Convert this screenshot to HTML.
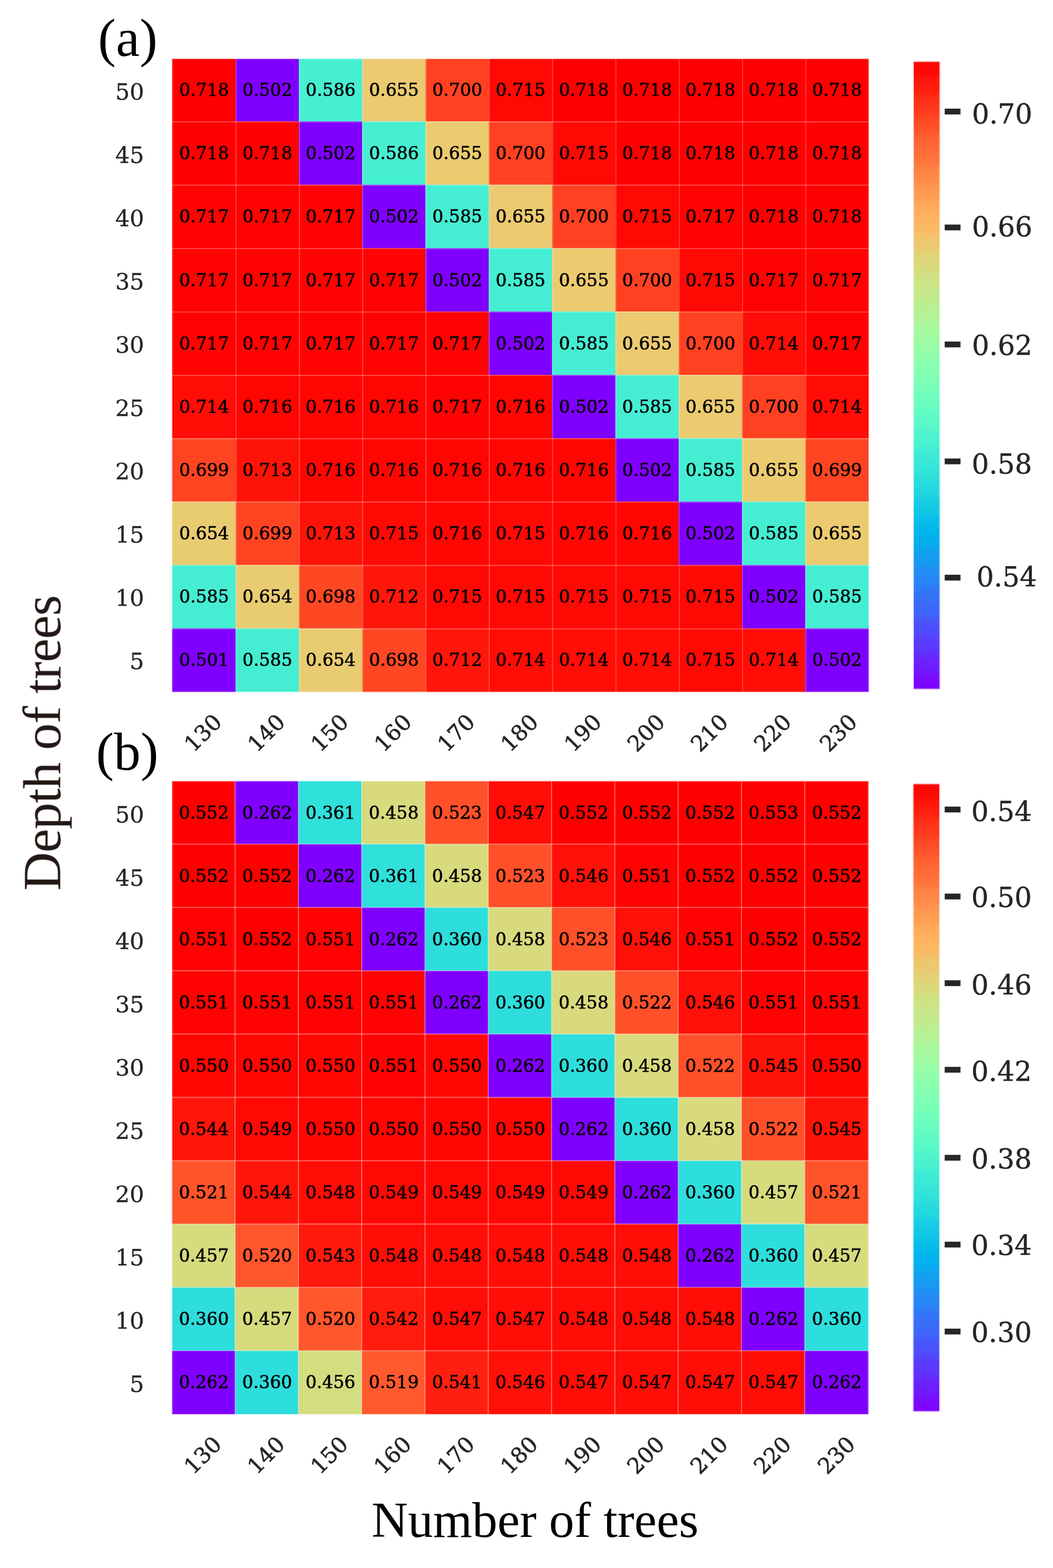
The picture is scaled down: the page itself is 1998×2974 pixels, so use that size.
<!DOCTYPE html>
<html lang="en"><head><meta charset="utf-8"><title>Heatmaps: depth of trees vs number of trees</title>
<style>
html,body{margin:0;padding:0;background:#fff}
body{width:1998px;height:2974px;overflow:hidden}
svg{display:block}
.c{font-family:'DejaVu Serif','Liberation Serif',serif;font-size:33.1px;fill:#000;stroke:#000;stroke-width:0.7px;text-anchor:middle}
.yt{font-family:'DejaVu Serif','Liberation Serif',serif;font-size:43.1px;fill:#262626;stroke:#262626;stroke-width:0.35px;text-anchor:end}
.xt{font-family:'DejaVu Serif','Liberation Serif',serif;font-size:41.5px;fill:#262626;stroke:#262626;stroke-width:0.7px;text-anchor:middle}
.ct{font-family:'DejaVu Serif','Liberation Serif',serif;font-size:51.5px;fill:#262626;stroke:#262626;stroke-width:0.5px;text-anchor:start}
.lab{font-family:'Liberation Serif','DejaVu Serif',serif;fill:#000}
</style></head><body>
<svg width="1998" height="2974" viewBox="0 0 1998 2974" role="img" aria-label="Heatmaps of model score versus depth of trees and number of trees">
<defs>
<filter id="soft" filterUnits="userSpaceOnUse" x="0" y="0" width="1998" height="2974" color-interpolation-filters="sRGB"><feGaussianBlur stdDeviation="0.55"/></filter>
</defs>
<rect width="1998" height="2974" fill="#fff"/>
<g filter="url(#soft)">
<g id="heat-a">
<g opacity="0.16">
<rect x="325" y="110" width="122.1" height="120.2" fill="#ff0000"/>
<rect x="447.1" y="110" width="120.1" height="120.2" fill="#8000ff"/>
<rect x="567.2" y="110" width="120.1" height="120.2" fill="#46efd1"/>
<rect x="687.3" y="110" width="120.1" height="120.2" fill="#ebca70"/>
<rect x="807.4" y="110" width="120.1" height="120.2" fill="#ff4121"/>
<rect x="927.5" y="110" width="120.1" height="120.2" fill="#ff0905"/>
<rect x="1047.6" y="110" width="120.1" height="120.2" fill="#ff0000"/>
<rect x="1167.7" y="110" width="120.1" height="120.2" fill="#ff0000"/>
<rect x="1287.8" y="110" width="120.1" height="120.2" fill="#ff0000"/>
<rect x="1407.9" y="110" width="120.1" height="120.2" fill="#ff0000"/>
<rect x="1528" y="110" width="122" height="120.2" fill="#ff0000"/>
<rect x="325" y="230.2" width="122.1" height="120.2" fill="#ff0000"/>
<rect x="1528" y="230.2" width="122" height="120.2" fill="#ff0000"/>
<rect x="325" y="350.4" width="122.1" height="120.2" fill="#ff0302"/>
<rect x="1528" y="350.4" width="122" height="120.2" fill="#ff0000"/>
<rect x="325" y="470.6" width="122.1" height="120.2" fill="#ff0302"/>
<rect x="1528" y="470.6" width="122" height="120.2" fill="#ff0302"/>
<rect x="325" y="590.8" width="122.1" height="120.2" fill="#ff0302"/>
<rect x="1528" y="590.8" width="122" height="120.2" fill="#ff0302"/>
<rect x="325" y="711" width="122.1" height="120.2" fill="#ff0d06"/>
<rect x="1528" y="711" width="122" height="120.2" fill="#ff0d06"/>
<rect x="325" y="831.2" width="122.1" height="120.2" fill="#ff4422"/>
<rect x="1528" y="831.2" width="122" height="120.2" fill="#ff4422"/>
<rect x="325" y="951.4" width="122.1" height="120.2" fill="#e9cb72"/>
<rect x="1528" y="951.4" width="122" height="120.2" fill="#ebca70"/>
<rect x="325" y="1071.6" width="122.1" height="120.2" fill="#45eed2"/>
<rect x="1528" y="1071.6" width="122" height="120.2" fill="#45eed2"/>
<rect x="325" y="1191.8" width="122.1" height="122.2" fill="#8000ff"/>
<rect x="447.1" y="1191.8" width="120.1" height="122.2" fill="#45eed2"/>
<rect x="567.2" y="1191.8" width="120.1" height="122.2" fill="#e9cb72"/>
<rect x="687.3" y="1191.8" width="120.1" height="122.2" fill="#ff4724"/>
<rect x="807.4" y="1191.8" width="120.1" height="122.2" fill="#ff160b"/>
<rect x="927.5" y="1191.8" width="120.1" height="122.2" fill="#ff0d06"/>
<rect x="1047.6" y="1191.8" width="120.1" height="122.2" fill="#ff0d06"/>
<rect x="1167.7" y="1191.8" width="120.1" height="122.2" fill="#ff0d06"/>
<rect x="1287.8" y="1191.8" width="120.1" height="122.2" fill="#ff0905"/>
<rect x="1407.9" y="1191.8" width="120.1" height="122.2" fill="#ff0d06"/>
<rect x="1528" y="1191.8" width="122" height="122.2" fill="#8000ff"/>
</g>
<rect x="327" y="112" width="120.4" height="118.5" fill="#ff0000"/>
<rect x="447.1" y="112" width="120.4" height="118.5" fill="#8000ff"/>
<rect x="567.2" y="112" width="120.4" height="118.5" fill="#46efd1"/>
<rect x="687.3" y="112" width="120.4" height="118.5" fill="#ebca70"/>
<rect x="807.4" y="112" width="120.4" height="118.5" fill="#ff4121"/>
<rect x="927.5" y="112" width="120.4" height="118.5" fill="#ff0905"/>
<rect x="1047.6" y="112" width="120.4" height="118.5" fill="#ff0000"/>
<rect x="1167.7" y="112" width="120.4" height="118.5" fill="#ff0000"/>
<rect x="1287.8" y="112" width="120.4" height="118.5" fill="#ff0000"/>
<rect x="1407.9" y="112" width="120.4" height="118.5" fill="#ff0000"/>
<rect x="1528" y="112" width="120" height="118.5" fill="#ff0000"/>
<rect x="327" y="230.2" width="120.4" height="120.5" fill="#ff0000"/>
<rect x="447.1" y="230.2" width="120.4" height="120.5" fill="#ff0000"/>
<rect x="567.2" y="230.2" width="120.4" height="120.5" fill="#8000ff"/>
<rect x="687.3" y="230.2" width="120.4" height="120.5" fill="#46efd1"/>
<rect x="807.4" y="230.2" width="120.4" height="120.5" fill="#ebca70"/>
<rect x="927.5" y="230.2" width="120.4" height="120.5" fill="#ff4121"/>
<rect x="1047.6" y="230.2" width="120.4" height="120.5" fill="#ff0905"/>
<rect x="1167.7" y="230.2" width="120.4" height="120.5" fill="#ff0000"/>
<rect x="1287.8" y="230.2" width="120.4" height="120.5" fill="#ff0000"/>
<rect x="1407.9" y="230.2" width="120.4" height="120.5" fill="#ff0000"/>
<rect x="1528" y="230.2" width="120" height="120.5" fill="#ff0000"/>
<rect x="327" y="350.4" width="120.4" height="120.5" fill="#ff0302"/>
<rect x="447.1" y="350.4" width="120.4" height="120.5" fill="#ff0302"/>
<rect x="567.2" y="350.4" width="120.4" height="120.5" fill="#ff0302"/>
<rect x="687.3" y="350.4" width="120.4" height="120.5" fill="#8000ff"/>
<rect x="807.4" y="350.4" width="120.4" height="120.5" fill="#45eed2"/>
<rect x="927.5" y="350.4" width="120.4" height="120.5" fill="#ebca70"/>
<rect x="1047.6" y="350.4" width="120.4" height="120.5" fill="#ff4121"/>
<rect x="1167.7" y="350.4" width="120.4" height="120.5" fill="#ff0905"/>
<rect x="1287.8" y="350.4" width="120.4" height="120.5" fill="#ff0302"/>
<rect x="1407.9" y="350.4" width="120.4" height="120.5" fill="#ff0000"/>
<rect x="1528" y="350.4" width="120" height="120.5" fill="#ff0000"/>
<rect x="327" y="470.6" width="120.4" height="120.5" fill="#ff0302"/>
<rect x="447.1" y="470.6" width="120.4" height="120.5" fill="#ff0302"/>
<rect x="567.2" y="470.6" width="120.4" height="120.5" fill="#ff0302"/>
<rect x="687.3" y="470.6" width="120.4" height="120.5" fill="#ff0302"/>
<rect x="807.4" y="470.6" width="120.4" height="120.5" fill="#8000ff"/>
<rect x="927.5" y="470.6" width="120.4" height="120.5" fill="#45eed2"/>
<rect x="1047.6" y="470.6" width="120.4" height="120.5" fill="#ebca70"/>
<rect x="1167.7" y="470.6" width="120.4" height="120.5" fill="#ff4121"/>
<rect x="1287.8" y="470.6" width="120.4" height="120.5" fill="#ff0905"/>
<rect x="1407.9" y="470.6" width="120.4" height="120.5" fill="#ff0302"/>
<rect x="1528" y="470.6" width="120" height="120.5" fill="#ff0302"/>
<rect x="327" y="590.8" width="120.4" height="120.5" fill="#ff0302"/>
<rect x="447.1" y="590.8" width="120.4" height="120.5" fill="#ff0302"/>
<rect x="567.2" y="590.8" width="120.4" height="120.5" fill="#ff0302"/>
<rect x="687.3" y="590.8" width="120.4" height="120.5" fill="#ff0302"/>
<rect x="807.4" y="590.8" width="120.4" height="120.5" fill="#ff0302"/>
<rect x="927.5" y="590.8" width="120.4" height="120.5" fill="#8000ff"/>
<rect x="1047.6" y="590.8" width="120.4" height="120.5" fill="#45eed2"/>
<rect x="1167.7" y="590.8" width="120.4" height="120.5" fill="#ebca70"/>
<rect x="1287.8" y="590.8" width="120.4" height="120.5" fill="#ff4121"/>
<rect x="1407.9" y="590.8" width="120.4" height="120.5" fill="#ff0d06"/>
<rect x="1528" y="590.8" width="120" height="120.5" fill="#ff0302"/>
<rect x="327" y="711" width="120.4" height="120.5" fill="#ff0d06"/>
<rect x="447.1" y="711" width="120.4" height="120.5" fill="#ff0603"/>
<rect x="567.2" y="711" width="120.4" height="120.5" fill="#ff0603"/>
<rect x="687.3" y="711" width="120.4" height="120.5" fill="#ff0603"/>
<rect x="807.4" y="711" width="120.4" height="120.5" fill="#ff0302"/>
<rect x="927.5" y="711" width="120.4" height="120.5" fill="#ff0603"/>
<rect x="1047.6" y="711" width="120.4" height="120.5" fill="#8000ff"/>
<rect x="1167.7" y="711" width="120.4" height="120.5" fill="#45eed2"/>
<rect x="1287.8" y="711" width="120.4" height="120.5" fill="#ebca70"/>
<rect x="1407.9" y="711" width="120.4" height="120.5" fill="#ff4121"/>
<rect x="1528" y="711" width="120" height="120.5" fill="#ff0d06"/>
<rect x="327" y="831.2" width="120.4" height="120.5" fill="#ff4422"/>
<rect x="447.1" y="831.2" width="120.4" height="120.5" fill="#ff1309"/>
<rect x="567.2" y="831.2" width="120.4" height="120.5" fill="#ff0603"/>
<rect x="687.3" y="831.2" width="120.4" height="120.5" fill="#ff0603"/>
<rect x="807.4" y="831.2" width="120.4" height="120.5" fill="#ff0603"/>
<rect x="927.5" y="831.2" width="120.4" height="120.5" fill="#ff0603"/>
<rect x="1047.6" y="831.2" width="120.4" height="120.5" fill="#ff0603"/>
<rect x="1167.7" y="831.2" width="120.4" height="120.5" fill="#8000ff"/>
<rect x="1287.8" y="831.2" width="120.4" height="120.5" fill="#45eed2"/>
<rect x="1407.9" y="831.2" width="120.4" height="120.5" fill="#ebca70"/>
<rect x="1528" y="831.2" width="120" height="120.5" fill="#ff4422"/>
<rect x="327" y="951.4" width="120.4" height="120.5" fill="#e9cb72"/>
<rect x="447.1" y="951.4" width="120.4" height="120.5" fill="#ff4422"/>
<rect x="567.2" y="951.4" width="120.4" height="120.5" fill="#ff1309"/>
<rect x="687.3" y="951.4" width="120.4" height="120.5" fill="#ff0905"/>
<rect x="807.4" y="951.4" width="120.4" height="120.5" fill="#ff0603"/>
<rect x="927.5" y="951.4" width="120.4" height="120.5" fill="#ff0905"/>
<rect x="1047.6" y="951.4" width="120.4" height="120.5" fill="#ff0603"/>
<rect x="1167.7" y="951.4" width="120.4" height="120.5" fill="#ff0603"/>
<rect x="1287.8" y="951.4" width="120.4" height="120.5" fill="#8000ff"/>
<rect x="1407.9" y="951.4" width="120.4" height="120.5" fill="#45eed2"/>
<rect x="1528" y="951.4" width="120" height="120.5" fill="#ebca70"/>
<rect x="327" y="1071.6" width="120.4" height="120.5" fill="#45eed2"/>
<rect x="447.1" y="1071.6" width="120.4" height="120.5" fill="#e9cb72"/>
<rect x="567.2" y="1071.6" width="120.4" height="120.5" fill="#ff4724"/>
<rect x="687.3" y="1071.6" width="120.4" height="120.5" fill="#ff160b"/>
<rect x="807.4" y="1071.6" width="120.4" height="120.5" fill="#ff0905"/>
<rect x="927.5" y="1071.6" width="120.4" height="120.5" fill="#ff0905"/>
<rect x="1047.6" y="1071.6" width="120.4" height="120.5" fill="#ff0905"/>
<rect x="1167.7" y="1071.6" width="120.4" height="120.5" fill="#ff0905"/>
<rect x="1287.8" y="1071.6" width="120.4" height="120.5" fill="#ff0905"/>
<rect x="1407.9" y="1071.6" width="120.4" height="120.5" fill="#8000ff"/>
<rect x="1528" y="1071.6" width="120" height="120.5" fill="#45eed2"/>
<rect x="327" y="1191.8" width="120.4" height="120.2" fill="#8000ff"/>
<rect x="447.1" y="1191.8" width="120.4" height="120.2" fill="#45eed2"/>
<rect x="567.2" y="1191.8" width="120.4" height="120.2" fill="#e9cb72"/>
<rect x="687.3" y="1191.8" width="120.4" height="120.2" fill="#ff4724"/>
<rect x="807.4" y="1191.8" width="120.4" height="120.2" fill="#ff160b"/>
<rect x="927.5" y="1191.8" width="120.4" height="120.2" fill="#ff0d06"/>
<rect x="1047.6" y="1191.8" width="120.4" height="120.2" fill="#ff0d06"/>
<rect x="1167.7" y="1191.8" width="120.4" height="120.2" fill="#ff0d06"/>
<rect x="1287.8" y="1191.8" width="120.4" height="120.2" fill="#ff0905"/>
<rect x="1407.9" y="1191.8" width="120.4" height="120.2" fill="#ff0d06"/>
<rect x="1528" y="1191.8" width="120" height="120.2" fill="#8000ff"/>
<rect x="447.1" y="112" width="2" height="1200" fill="#fff" fill-opacity="0.22"/>
<rect x="567.2" y="112" width="2" height="1200" fill="#fff" fill-opacity="0.22"/>
<rect x="687.3" y="112" width="2" height="1200" fill="#fff" fill-opacity="0.22"/>
<rect x="807.4" y="112" width="2" height="1200" fill="#fff" fill-opacity="0.22"/>
<rect x="927.5" y="112" width="2" height="1200" fill="#fff" fill-opacity="0.22"/>
<rect x="1047.6" y="112" width="2" height="1200" fill="#fff" fill-opacity="0.22"/>
<rect x="1167.7" y="112" width="2" height="1200" fill="#fff" fill-opacity="0.22"/>
<rect x="1287.8" y="112" width="2" height="1200" fill="#fff" fill-opacity="0.22"/>
<rect x="1407.9" y="112" width="2" height="1200" fill="#fff" fill-opacity="0.22"/>
<rect x="1528" y="112" width="2" height="1200" fill="#fff" fill-opacity="0.22"/>
<rect x="327" y="230.2" width="1321" height="2" fill="#fff" fill-opacity="0.27"/>
<rect x="327" y="350.4" width="1321" height="2" fill="#fff" fill-opacity="0.27"/>
<rect x="327" y="470.6" width="1321" height="2" fill="#fff" fill-opacity="0.27"/>
<rect x="327" y="590.8" width="1321" height="2" fill="#fff" fill-opacity="0.27"/>
<rect x="327" y="711" width="1321" height="2" fill="#fff" fill-opacity="0.27"/>
<rect x="327" y="831.2" width="1321" height="2" fill="#fff" fill-opacity="0.27"/>
<rect x="327" y="951.4" width="1321" height="2" fill="#fff" fill-opacity="0.27"/>
<rect x="327" y="1071.6" width="1321" height="2" fill="#fff" fill-opacity="0.27"/>
<rect x="327" y="1191.8" width="1321" height="2" fill="#fff" fill-opacity="0.27"/>
</g>
<g id="annot-a">
<text class="c" x="387.25" y="182.3">0.718</text>
<text class="c" x="507.35" y="182.3">0.502</text>
<text class="c" x="627.45" y="182.3">0.586</text>
<text class="c" x="747.55" y="182.3">0.655</text>
<text class="c" x="867.65" y="182.3">0.700</text>
<text class="c" x="987.75" y="182.3">0.715</text>
<text class="c" x="1107.85" y="182.3">0.718</text>
<text class="c" x="1227.95" y="182.3">0.718</text>
<text class="c" x="1348.05" y="182.3">0.718</text>
<text class="c" x="1468.15" y="182.3">0.718</text>
<text class="c" x="1588.25" y="182.3">0.718</text>
<text class="c" x="387.25" y="302.37">0.718</text>
<text class="c" x="507.35" y="302.37">0.718</text>
<text class="c" x="627.45" y="302.37">0.502</text>
<text class="c" x="747.55" y="302.37">0.586</text>
<text class="c" x="867.65" y="302.37">0.655</text>
<text class="c" x="987.75" y="302.37">0.700</text>
<text class="c" x="1107.85" y="302.37">0.715</text>
<text class="c" x="1227.95" y="302.37">0.718</text>
<text class="c" x="1348.05" y="302.37">0.718</text>
<text class="c" x="1468.15" y="302.37">0.718</text>
<text class="c" x="1588.25" y="302.37">0.718</text>
<text class="c" x="387.25" y="422.44">0.717</text>
<text class="c" x="507.35" y="422.44">0.717</text>
<text class="c" x="627.45" y="422.44">0.717</text>
<text class="c" x="747.55" y="422.44">0.502</text>
<text class="c" x="867.65" y="422.44">0.585</text>
<text class="c" x="987.75" y="422.44">0.655</text>
<text class="c" x="1107.85" y="422.44">0.700</text>
<text class="c" x="1227.95" y="422.44">0.715</text>
<text class="c" x="1348.05" y="422.44">0.717</text>
<text class="c" x="1468.15" y="422.44">0.718</text>
<text class="c" x="1588.25" y="422.44">0.718</text>
<text class="c" x="387.25" y="542.51">0.717</text>
<text class="c" x="507.35" y="542.51">0.717</text>
<text class="c" x="627.45" y="542.51">0.717</text>
<text class="c" x="747.55" y="542.51">0.717</text>
<text class="c" x="867.65" y="542.51">0.502</text>
<text class="c" x="987.75" y="542.51">0.585</text>
<text class="c" x="1107.85" y="542.51">0.655</text>
<text class="c" x="1227.95" y="542.51">0.700</text>
<text class="c" x="1348.05" y="542.51">0.715</text>
<text class="c" x="1468.15" y="542.51">0.717</text>
<text class="c" x="1588.25" y="542.51">0.717</text>
<text class="c" x="387.25" y="662.58">0.717</text>
<text class="c" x="507.35" y="662.58">0.717</text>
<text class="c" x="627.45" y="662.58">0.717</text>
<text class="c" x="747.55" y="662.58">0.717</text>
<text class="c" x="867.65" y="662.58">0.717</text>
<text class="c" x="987.75" y="662.58">0.502</text>
<text class="c" x="1107.85" y="662.58">0.585</text>
<text class="c" x="1227.95" y="662.58">0.655</text>
<text class="c" x="1348.05" y="662.58">0.700</text>
<text class="c" x="1468.15" y="662.58">0.714</text>
<text class="c" x="1588.25" y="662.58">0.717</text>
<text class="c" x="387.25" y="782.65">0.714</text>
<text class="c" x="507.35" y="782.65">0.716</text>
<text class="c" x="627.45" y="782.65">0.716</text>
<text class="c" x="747.55" y="782.65">0.716</text>
<text class="c" x="867.65" y="782.65">0.717</text>
<text class="c" x="987.75" y="782.65">0.716</text>
<text class="c" x="1107.85" y="782.65">0.502</text>
<text class="c" x="1227.95" y="782.65">0.585</text>
<text class="c" x="1348.05" y="782.65">0.655</text>
<text class="c" x="1468.15" y="782.65">0.700</text>
<text class="c" x="1588.25" y="782.65">0.714</text>
<text class="c" x="387.25" y="902.72">0.699</text>
<text class="c" x="507.35" y="902.72">0.713</text>
<text class="c" x="627.45" y="902.72">0.716</text>
<text class="c" x="747.55" y="902.72">0.716</text>
<text class="c" x="867.65" y="902.72">0.716</text>
<text class="c" x="987.75" y="902.72">0.716</text>
<text class="c" x="1107.85" y="902.72">0.716</text>
<text class="c" x="1227.95" y="902.72">0.502</text>
<text class="c" x="1348.05" y="902.72">0.585</text>
<text class="c" x="1468.15" y="902.72">0.655</text>
<text class="c" x="1588.25" y="902.72">0.699</text>
<text class="c" x="387.25" y="1022.79">0.654</text>
<text class="c" x="507.35" y="1022.79">0.699</text>
<text class="c" x="627.45" y="1022.79">0.713</text>
<text class="c" x="747.55" y="1022.79">0.715</text>
<text class="c" x="867.65" y="1022.79">0.716</text>
<text class="c" x="987.75" y="1022.79">0.715</text>
<text class="c" x="1107.85" y="1022.79">0.716</text>
<text class="c" x="1227.95" y="1022.79">0.716</text>
<text class="c" x="1348.05" y="1022.79">0.502</text>
<text class="c" x="1468.15" y="1022.79">0.585</text>
<text class="c" x="1588.25" y="1022.79">0.655</text>
<text class="c" x="387.25" y="1142.86">0.585</text>
<text class="c" x="507.35" y="1142.86">0.654</text>
<text class="c" x="627.45" y="1142.86">0.698</text>
<text class="c" x="747.55" y="1142.86">0.712</text>
<text class="c" x="867.65" y="1142.86">0.715</text>
<text class="c" x="987.75" y="1142.86">0.715</text>
<text class="c" x="1107.85" y="1142.86">0.715</text>
<text class="c" x="1227.95" y="1142.86">0.715</text>
<text class="c" x="1348.05" y="1142.86">0.715</text>
<text class="c" x="1468.15" y="1142.86">0.502</text>
<text class="c" x="1588.25" y="1142.86">0.585</text>
<text class="c" x="387.25" y="1262.93">0.501</text>
<text class="c" x="507.35" y="1262.93">0.585</text>
<text class="c" x="627.45" y="1262.93">0.654</text>
<text class="c" x="747.55" y="1262.93">0.698</text>
<text class="c" x="867.65" y="1262.93">0.712</text>
<text class="c" x="987.75" y="1262.93">0.714</text>
<text class="c" x="1107.85" y="1262.93">0.714</text>
<text class="c" x="1227.95" y="1262.93">0.714</text>
<text class="c" x="1348.05" y="1262.93">0.715</text>
<text class="c" x="1468.15" y="1262.93">0.714</text>
<text class="c" x="1588.25" y="1262.93">0.502</text>
</g>
<g id="yticks-a">
<text class="yt" x="273.5" y="189.4">50</text>
<text class="yt" x="273.5" y="309.4">45</text>
<text class="yt" x="273.5" y="429.4">40</text>
<text class="yt" x="273.5" y="549.4">35</text>
<text class="yt" x="273.5" y="669.4">30</text>
<text class="yt" x="273.5" y="789.4">25</text>
<text class="yt" x="273.5" y="909.4">20</text>
<text class="yt" x="273.5" y="1029.4">15</text>
<text class="yt" x="273.5" y="1149.4">10</text>
<text class="yt" x="273.5" y="1269.4">5</text>
</g>
<g id="xticks-a">
<text class="xt" transform="translate(384.45 1389.3) rotate(-45)" x="0" y="15.4">130</text>
<text class="xt" transform="translate(504.55 1389.3) rotate(-45)" x="0" y="15.4">140</text>
<text class="xt" transform="translate(624.65 1389.3) rotate(-45)" x="0" y="15.4">150</text>
<text class="xt" transform="translate(744.75 1389.3) rotate(-45)" x="0" y="15.4">160</text>
<text class="xt" transform="translate(864.85 1389.3) rotate(-45)" x="0" y="15.4">170</text>
<text class="xt" transform="translate(984.95 1389.3) rotate(-45)" x="0" y="15.4">180</text>
<text class="xt" transform="translate(1105.05 1389.3) rotate(-45)" x="0" y="15.4">190</text>
<text class="xt" transform="translate(1225.15 1389.3) rotate(-45)" x="0" y="15.4">200</text>
<text class="xt" transform="translate(1345.25 1389.3) rotate(-45)" x="0" y="15.4">210</text>
<text class="xt" transform="translate(1465.35 1389.3) rotate(-45)" x="0" y="15.4">220</text>
<text class="xt" transform="translate(1590.05 1389.3) rotate(-45)" x="0" y="15.4">230</text>
</g>
<g id="cbar-a">
<linearGradient id="rb-a" gradientUnits="userSpaceOnUse" x1="0" y1="1308" x2="0" y2="116">
<stop offset="0" stop-color="#8000ff"/>
<stop offset="0.02" stop-color="#780dff"/>
<stop offset="0.03" stop-color="#7019ff"/>
<stop offset="0.05" stop-color="#6826fe"/>
<stop offset="0.06" stop-color="#6032fe"/>
<stop offset="0.08" stop-color="#583efd"/>
<stop offset="0.09" stop-color="#504afc"/>
<stop offset="0.11" stop-color="#4856fb"/>
<stop offset="0.12" stop-color="#4062fa"/>
<stop offset="0.14" stop-color="#386df9"/>
<stop offset="0.16" stop-color="#3079f7"/>
<stop offset="0.17" stop-color="#2884f6"/>
<stop offset="0.19" stop-color="#208ef4"/>
<stop offset="0.2" stop-color="#1898f2"/>
<stop offset="0.22" stop-color="#10a2f0"/>
<stop offset="0.23" stop-color="#08acee"/>
<stop offset="0.25" stop-color="#00b5eb"/>
<stop offset="0.27" stop-color="#08bee9"/>
<stop offset="0.28" stop-color="#10c6e6"/>
<stop offset="0.3" stop-color="#18cde4"/>
<stop offset="0.31" stop-color="#20d5e1"/>
<stop offset="0.33" stop-color="#28dbde"/>
<stop offset="0.34" stop-color="#30e1da"/>
<stop offset="0.36" stop-color="#38e7d7"/>
<stop offset="0.38" stop-color="#40ecd4"/>
<stop offset="0.39" stop-color="#48f1d0"/>
<stop offset="0.41" stop-color="#50f4cc"/>
<stop offset="0.42" stop-color="#58f8c9"/>
<stop offset="0.44" stop-color="#60fac5"/>
<stop offset="0.45" stop-color="#68fcc1"/>
<stop offset="0.47" stop-color="#70febc"/>
<stop offset="0.48" stop-color="#78ffb8"/>
<stop offset="0.5" stop-color="#80ffb4"/>
<stop offset="0.52" stop-color="#89ffaf"/>
<stop offset="0.53" stop-color="#90feab"/>
<stop offset="0.55" stop-color="#99fca6"/>
<stop offset="0.56" stop-color="#a0faa1"/>
<stop offset="0.58" stop-color="#a9f79c"/>
<stop offset="0.59" stop-color="#b0f397"/>
<stop offset="0.61" stop-color="#b9ef92"/>
<stop offset="0.62" stop-color="#c0eb8d"/>
<stop offset="0.64" stop-color="#c9e688"/>
<stop offset="0.66" stop-color="#d0e082"/>
<stop offset="0.67" stop-color="#d9da7d"/>
<stop offset="0.69" stop-color="#e0d377"/>
<stop offset="0.7" stop-color="#e9cb72"/>
<stop offset="0.72" stop-color="#f0c46c"/>
<stop offset="0.73" stop-color="#f9bb66"/>
<stop offset="0.75" stop-color="#ffb360"/>
<stop offset="0.77" stop-color="#ffa95b"/>
<stop offset="0.78" stop-color="#ffa055"/>
<stop offset="0.8" stop-color="#ff964f"/>
<stop offset="0.81" stop-color="#ff8c49"/>
<stop offset="0.83" stop-color="#ff8143"/>
<stop offset="0.84" stop-color="#ff763d"/>
<stop offset="0.86" stop-color="#ff6b37"/>
<stop offset="0.88" stop-color="#ff5f30"/>
<stop offset="0.89" stop-color="#ff532a"/>
<stop offset="0.91" stop-color="#ff4724"/>
<stop offset="0.92" stop-color="#ff3b1e"/>
<stop offset="0.94" stop-color="#ff2f18"/>
<stop offset="0.95" stop-color="#ff2211"/>
<stop offset="0.97" stop-color="#ff160b"/>
<stop offset="0.98" stop-color="#ff0905"/>
<stop offset="1" stop-color="#ff0000"/>
</linearGradient>
<rect x="1732" y="117" width="2" height="1190" fill="url(#rb-a)" opacity="0.2"/>
<rect x="1782" y="117" width="2" height="1190" fill="url(#rb-a)" opacity="0.45"/>
<rect x="1734" y="116" width="48" height="2.3" fill="url(#rb-a)" opacity="0.42"/>
<rect x="1734" y="1305.7" width="48" height="2.3" fill="url(#rb-a)" opacity="0.35"/>
<rect x="1734" y="118" width="48" height="1188" fill="url(#rb-a)"/>
<rect x="1792.5" y="206.1" width="30" height="11" fill="#262626"/>
<text class="ct" x="1844.2" y="234.2">0.70</text>
<rect x="1792.5" y="425.9" width="30" height="11" fill="#262626"/>
<text class="ct" x="1844.2" y="448.4">0.66</text>
<rect x="1792.5" y="647.8" width="30" height="11" fill="#262626"/>
<text class="ct" x="1844.2" y="673.2">0.62</text>
<rect x="1792.5" y="869.6" width="30" height="11" fill="#262626"/>
<text class="ct" x="1843.7" y="898">0.58</text>
<rect x="1792.5" y="1090.1" width="30" height="11" fill="#262626"/>
<text class="ct" x="1852.9" y="1111.7">0.54</text>
</g>
<g id="heat-b">
<g opacity="0.16">
<rect x="325" y="1480" width="121.09" height="121" fill="#ff0000"/>
<rect x="446.09" y="1480" width="120.09" height="121" fill="#8000ff"/>
<rect x="566.18" y="1480" width="120.09" height="121" fill="#2fe0db"/>
<rect x="686.27" y="1480" width="120.09" height="121" fill="#d9da7d"/>
<rect x="806.36" y="1480" width="120.09" height="121" fill="#ff5029"/>
<rect x="926.45" y="1480" width="120.09" height="121" fill="#ff0d06"/>
<rect x="1046.54" y="1480" width="120.09" height="121" fill="#ff0000"/>
<rect x="1166.63" y="1480" width="120.09" height="121" fill="#ff0000"/>
<rect x="1286.72" y="1480" width="120.09" height="121" fill="#ff0000"/>
<rect x="1406.81" y="1480" width="120.09" height="121" fill="#ff0000"/>
<rect x="1526.9" y="1480" width="121.1" height="121" fill="#ff0000"/>
<rect x="325" y="1601" width="121.09" height="120.1" fill="#ff0000"/>
<rect x="1526.9" y="1601" width="121.1" height="120.1" fill="#ff0000"/>
<rect x="325" y="1721.1" width="121.09" height="120.1" fill="#ff0302"/>
<rect x="1526.9" y="1721.1" width="121.1" height="120.1" fill="#ff0000"/>
<rect x="325" y="1841.2" width="121.09" height="120.1" fill="#ff0302"/>
<rect x="1526.9" y="1841.2" width="121.1" height="120.1" fill="#ff0302"/>
<rect x="325" y="1961.3" width="121.09" height="120.1" fill="#ff0603"/>
<rect x="1526.9" y="1961.3" width="121.1" height="120.1" fill="#ff0603"/>
<rect x="325" y="2081.4" width="121.09" height="120.1" fill="#ff160b"/>
<rect x="1526.9" y="2081.4" width="121.1" height="120.1" fill="#ff1309"/>
<rect x="325" y="2201.5" width="121.09" height="120.1" fill="#ff532a"/>
<rect x="1526.9" y="2201.5" width="121.1" height="120.1" fill="#ff532a"/>
<rect x="325" y="2321.6" width="121.09" height="120.1" fill="#d6db7e"/>
<rect x="1526.9" y="2321.6" width="121.1" height="120.1" fill="#d6db7e"/>
<rect x="325" y="2441.7" width="121.09" height="120.1" fill="#2ddedc"/>
<rect x="1526.9" y="2441.7" width="121.1" height="120.1" fill="#2ddedc"/>
<rect x="325" y="2561.8" width="121.09" height="122.2" fill="#8000ff"/>
<rect x="446.09" y="2561.8" width="120.09" height="122.2" fill="#2ddedc"/>
<rect x="566.18" y="2561.8" width="120.09" height="122.2" fill="#d4dd80"/>
<rect x="686.27" y="2561.8" width="120.09" height="122.2" fill="#ff592d"/>
<rect x="806.36" y="2561.8" width="120.09" height="122.2" fill="#ff1f10"/>
<rect x="926.45" y="2561.8" width="120.09" height="122.2" fill="#ff1008"/>
<rect x="1046.54" y="2561.8" width="120.09" height="122.2" fill="#ff0d06"/>
<rect x="1166.63" y="2561.8" width="120.09" height="122.2" fill="#ff0d06"/>
<rect x="1286.72" y="2561.8" width="120.09" height="122.2" fill="#ff0d06"/>
<rect x="1406.81" y="2561.8" width="120.09" height="122.2" fill="#ff0d06"/>
<rect x="1526.9" y="2561.8" width="121.1" height="122.2" fill="#8000ff"/>
</g>
<rect x="327" y="1482" width="119.39" height="119.3" fill="#ff0000"/>
<rect x="446.09" y="1482" width="120.39" height="119.3" fill="#8000ff"/>
<rect x="566.18" y="1482" width="120.39" height="119.3" fill="#2fe0db"/>
<rect x="686.27" y="1482" width="120.39" height="119.3" fill="#d9da7d"/>
<rect x="806.36" y="1482" width="120.39" height="119.3" fill="#ff5029"/>
<rect x="926.45" y="1482" width="120.39" height="119.3" fill="#ff0d06"/>
<rect x="1046.54" y="1482" width="120.39" height="119.3" fill="#ff0000"/>
<rect x="1166.63" y="1482" width="120.39" height="119.3" fill="#ff0000"/>
<rect x="1286.72" y="1482" width="120.39" height="119.3" fill="#ff0000"/>
<rect x="1406.81" y="1482" width="120.39" height="119.3" fill="#ff0000"/>
<rect x="1526.9" y="1482" width="121.1" height="119.3" fill="#ff0000"/>
<rect x="327" y="1601" width="119.39" height="120.4" fill="#ff0000"/>
<rect x="446.09" y="1601" width="120.39" height="120.4" fill="#ff0000"/>
<rect x="566.18" y="1601" width="120.39" height="120.4" fill="#8000ff"/>
<rect x="686.27" y="1601" width="120.39" height="120.4" fill="#2fe0db"/>
<rect x="806.36" y="1601" width="120.39" height="120.4" fill="#d9da7d"/>
<rect x="926.45" y="1601" width="120.39" height="120.4" fill="#ff5029"/>
<rect x="1046.54" y="1601" width="120.39" height="120.4" fill="#ff1008"/>
<rect x="1166.63" y="1601" width="120.39" height="120.4" fill="#ff0302"/>
<rect x="1286.72" y="1601" width="120.39" height="120.4" fill="#ff0000"/>
<rect x="1406.81" y="1601" width="120.39" height="120.4" fill="#ff0000"/>
<rect x="1526.9" y="1601" width="121.1" height="120.4" fill="#ff0000"/>
<rect x="327" y="1721.1" width="119.39" height="120.4" fill="#ff0302"/>
<rect x="446.09" y="1721.1" width="120.39" height="120.4" fill="#ff0000"/>
<rect x="566.18" y="1721.1" width="120.39" height="120.4" fill="#ff0302"/>
<rect x="686.27" y="1721.1" width="120.39" height="120.4" fill="#8000ff"/>
<rect x="806.36" y="1721.1" width="120.39" height="120.4" fill="#2ddedc"/>
<rect x="926.45" y="1721.1" width="120.39" height="120.4" fill="#d9da7d"/>
<rect x="1046.54" y="1721.1" width="120.39" height="120.4" fill="#ff5029"/>
<rect x="1166.63" y="1721.1" width="120.39" height="120.4" fill="#ff1008"/>
<rect x="1286.72" y="1721.1" width="120.39" height="120.4" fill="#ff0302"/>
<rect x="1406.81" y="1721.1" width="120.39" height="120.4" fill="#ff0000"/>
<rect x="1526.9" y="1721.1" width="121.1" height="120.4" fill="#ff0000"/>
<rect x="327" y="1841.2" width="119.39" height="120.4" fill="#ff0302"/>
<rect x="446.09" y="1841.2" width="120.39" height="120.4" fill="#ff0302"/>
<rect x="566.18" y="1841.2" width="120.39" height="120.4" fill="#ff0302"/>
<rect x="686.27" y="1841.2" width="120.39" height="120.4" fill="#ff0302"/>
<rect x="806.36" y="1841.2" width="120.39" height="120.4" fill="#8000ff"/>
<rect x="926.45" y="1841.2" width="120.39" height="120.4" fill="#2ddedc"/>
<rect x="1046.54" y="1841.2" width="120.39" height="120.4" fill="#d9da7d"/>
<rect x="1166.63" y="1841.2" width="120.39" height="120.4" fill="#ff5029"/>
<rect x="1286.72" y="1841.2" width="120.39" height="120.4" fill="#ff1008"/>
<rect x="1406.81" y="1841.2" width="120.39" height="120.4" fill="#ff0302"/>
<rect x="1526.9" y="1841.2" width="121.1" height="120.4" fill="#ff0302"/>
<rect x="327" y="1961.3" width="119.39" height="120.4" fill="#ff0603"/>
<rect x="446.09" y="1961.3" width="120.39" height="120.4" fill="#ff0603"/>
<rect x="566.18" y="1961.3" width="120.39" height="120.4" fill="#ff0603"/>
<rect x="686.27" y="1961.3" width="120.39" height="120.4" fill="#ff0302"/>
<rect x="806.36" y="1961.3" width="120.39" height="120.4" fill="#ff0603"/>
<rect x="926.45" y="1961.3" width="120.39" height="120.4" fill="#8000ff"/>
<rect x="1046.54" y="1961.3" width="120.39" height="120.4" fill="#2ddedc"/>
<rect x="1166.63" y="1961.3" width="120.39" height="120.4" fill="#d9da7d"/>
<rect x="1286.72" y="1961.3" width="120.39" height="120.4" fill="#ff5029"/>
<rect x="1406.81" y="1961.3" width="120.39" height="120.4" fill="#ff1309"/>
<rect x="1526.9" y="1961.3" width="121.1" height="120.4" fill="#ff0603"/>
<rect x="327" y="2081.4" width="119.39" height="120.4" fill="#ff160b"/>
<rect x="446.09" y="2081.4" width="120.39" height="120.4" fill="#ff0905"/>
<rect x="566.18" y="2081.4" width="120.39" height="120.4" fill="#ff0603"/>
<rect x="686.27" y="2081.4" width="120.39" height="120.4" fill="#ff0603"/>
<rect x="806.36" y="2081.4" width="120.39" height="120.4" fill="#ff0603"/>
<rect x="926.45" y="2081.4" width="120.39" height="120.4" fill="#ff0603"/>
<rect x="1046.54" y="2081.4" width="120.39" height="120.4" fill="#8000ff"/>
<rect x="1166.63" y="2081.4" width="120.39" height="120.4" fill="#2ddedc"/>
<rect x="1286.72" y="2081.4" width="120.39" height="120.4" fill="#d9da7d"/>
<rect x="1406.81" y="2081.4" width="120.39" height="120.4" fill="#ff5029"/>
<rect x="1526.9" y="2081.4" width="121.1" height="120.4" fill="#ff1309"/>
<rect x="327" y="2201.5" width="119.39" height="120.4" fill="#ff532a"/>
<rect x="446.09" y="2201.5" width="120.39" height="120.4" fill="#ff160b"/>
<rect x="566.18" y="2201.5" width="120.39" height="120.4" fill="#ff0d06"/>
<rect x="686.27" y="2201.5" width="120.39" height="120.4" fill="#ff0905"/>
<rect x="806.36" y="2201.5" width="120.39" height="120.4" fill="#ff0905"/>
<rect x="926.45" y="2201.5" width="120.39" height="120.4" fill="#ff0905"/>
<rect x="1046.54" y="2201.5" width="120.39" height="120.4" fill="#ff0905"/>
<rect x="1166.63" y="2201.5" width="120.39" height="120.4" fill="#8000ff"/>
<rect x="1286.72" y="2201.5" width="120.39" height="120.4" fill="#2ddedc"/>
<rect x="1406.81" y="2201.5" width="120.39" height="120.4" fill="#d6db7e"/>
<rect x="1526.9" y="2201.5" width="121.1" height="120.4" fill="#ff532a"/>
<rect x="327" y="2321.6" width="119.39" height="120.4" fill="#d6db7e"/>
<rect x="446.09" y="2321.6" width="120.39" height="120.4" fill="#ff562c"/>
<rect x="566.18" y="2321.6" width="120.39" height="120.4" fill="#ff190d"/>
<rect x="686.27" y="2321.6" width="120.39" height="120.4" fill="#ff0d06"/>
<rect x="806.36" y="2321.6" width="120.39" height="120.4" fill="#ff0d06"/>
<rect x="926.45" y="2321.6" width="120.39" height="120.4" fill="#ff0d06"/>
<rect x="1046.54" y="2321.6" width="120.39" height="120.4" fill="#ff0d06"/>
<rect x="1166.63" y="2321.6" width="120.39" height="120.4" fill="#ff0d06"/>
<rect x="1286.72" y="2321.6" width="120.39" height="120.4" fill="#8000ff"/>
<rect x="1406.81" y="2321.6" width="120.39" height="120.4" fill="#2ddedc"/>
<rect x="1526.9" y="2321.6" width="121.1" height="120.4" fill="#d6db7e"/>
<rect x="327" y="2441.7" width="119.39" height="120.4" fill="#2ddedc"/>
<rect x="446.09" y="2441.7" width="120.39" height="120.4" fill="#d6db7e"/>
<rect x="566.18" y="2441.7" width="120.39" height="120.4" fill="#ff562c"/>
<rect x="686.27" y="2441.7" width="120.39" height="120.4" fill="#ff1c0e"/>
<rect x="806.36" y="2441.7" width="120.39" height="120.4" fill="#ff0d06"/>
<rect x="926.45" y="2441.7" width="120.39" height="120.4" fill="#ff0d06"/>
<rect x="1046.54" y="2441.7" width="120.39" height="120.4" fill="#ff0d06"/>
<rect x="1166.63" y="2441.7" width="120.39" height="120.4" fill="#ff0d06"/>
<rect x="1286.72" y="2441.7" width="120.39" height="120.4" fill="#ff0d06"/>
<rect x="1406.81" y="2441.7" width="120.39" height="120.4" fill="#8000ff"/>
<rect x="1526.9" y="2441.7" width="121.1" height="120.4" fill="#2ddedc"/>
<rect x="327" y="2561.8" width="119.39" height="120.2" fill="#8000ff"/>
<rect x="446.09" y="2561.8" width="120.39" height="120.2" fill="#2ddedc"/>
<rect x="566.18" y="2561.8" width="120.39" height="120.2" fill="#d4dd80"/>
<rect x="686.27" y="2561.8" width="120.39" height="120.2" fill="#ff592d"/>
<rect x="806.36" y="2561.8" width="120.39" height="120.2" fill="#ff1f10"/>
<rect x="926.45" y="2561.8" width="120.39" height="120.2" fill="#ff1008"/>
<rect x="1046.54" y="2561.8" width="120.39" height="120.2" fill="#ff0d06"/>
<rect x="1166.63" y="2561.8" width="120.39" height="120.2" fill="#ff0d06"/>
<rect x="1286.72" y="2561.8" width="120.39" height="120.2" fill="#ff0d06"/>
<rect x="1406.81" y="2561.8" width="120.39" height="120.2" fill="#ff0d06"/>
<rect x="1526.9" y="2561.8" width="121.1" height="120.2" fill="#8000ff"/>
<rect x="445.09" y="1482" width="2" height="1200" fill="#fff" fill-opacity="0.36"/>
<rect x="565.18" y="1482" width="2" height="1200" fill="#fff" fill-opacity="0.36"/>
<rect x="685.27" y="1482" width="2" height="1200" fill="#fff" fill-opacity="0.36"/>
<rect x="805.36" y="1482" width="2" height="1200" fill="#fff" fill-opacity="0.36"/>
<rect x="925.45" y="1482" width="2" height="1200" fill="#fff" fill-opacity="0.36"/>
<rect x="1045.54" y="1482" width="2" height="1200" fill="#fff" fill-opacity="0.36"/>
<rect x="1165.63" y="1482" width="2" height="1200" fill="#fff" fill-opacity="0.36"/>
<rect x="1285.72" y="1482" width="2" height="1200" fill="#fff" fill-opacity="0.36"/>
<rect x="1405.81" y="1482" width="2" height="1200" fill="#fff" fill-opacity="0.36"/>
<rect x="1525.9" y="1482" width="2" height="1200" fill="#fff" fill-opacity="0.36"/>
<rect x="1646" y="1482" width="2" height="1200" fill="#fff" fill-opacity="0.25"/>
<rect x="327" y="1600" width="1321" height="2" fill="#fff" fill-opacity="0.36"/>
<rect x="327" y="1720.1" width="1321" height="2" fill="#fff" fill-opacity="0.36"/>
<rect x="327" y="1840.2" width="1321" height="2" fill="#fff" fill-opacity="0.36"/>
<rect x="327" y="1960.3" width="1321" height="2" fill="#fff" fill-opacity="0.36"/>
<rect x="327" y="2080.4" width="1321" height="2" fill="#fff" fill-opacity="0.36"/>
<rect x="327" y="2200.5" width="1321" height="2" fill="#fff" fill-opacity="0.36"/>
<rect x="327" y="2320.6" width="1321" height="2" fill="#fff" fill-opacity="0.36"/>
<rect x="327" y="2440.7" width="1321" height="2" fill="#fff" fill-opacity="0.36"/>
<rect x="327" y="2560.8" width="1321" height="2" fill="#fff" fill-opacity="0.36"/>
</g>
<g id="annot-b">
<text class="c" x="386.85" y="1553">0.552</text>
<text class="c" x="506.94" y="1553">0.262</text>
<text class="c" x="627.02" y="1553">0.361</text>
<text class="c" x="747.12" y="1553">0.458</text>
<text class="c" x="867.2" y="1553">0.523</text>
<text class="c" x="987.29" y="1553">0.547</text>
<text class="c" x="1107.38" y="1553">0.552</text>
<text class="c" x="1227.48" y="1553">0.552</text>
<text class="c" x="1347.56" y="1553">0.552</text>
<text class="c" x="1467.65" y="1553">0.553</text>
<text class="c" x="1587.75" y="1553">0.552</text>
<text class="c" x="386.85" y="1673">0.552</text>
<text class="c" x="506.94" y="1673">0.552</text>
<text class="c" x="627.02" y="1673">0.262</text>
<text class="c" x="747.12" y="1673">0.361</text>
<text class="c" x="867.2" y="1673">0.458</text>
<text class="c" x="987.29" y="1673">0.523</text>
<text class="c" x="1107.38" y="1673">0.546</text>
<text class="c" x="1227.48" y="1673">0.551</text>
<text class="c" x="1347.56" y="1673">0.552</text>
<text class="c" x="1467.65" y="1673">0.552</text>
<text class="c" x="1587.75" y="1673">0.552</text>
<text class="c" x="386.85" y="1793">0.551</text>
<text class="c" x="506.94" y="1793">0.552</text>
<text class="c" x="627.02" y="1793">0.551</text>
<text class="c" x="747.12" y="1793">0.262</text>
<text class="c" x="867.2" y="1793">0.360</text>
<text class="c" x="987.29" y="1793">0.458</text>
<text class="c" x="1107.38" y="1793">0.523</text>
<text class="c" x="1227.48" y="1793">0.546</text>
<text class="c" x="1347.56" y="1793">0.551</text>
<text class="c" x="1467.65" y="1793">0.552</text>
<text class="c" x="1587.75" y="1793">0.552</text>
<text class="c" x="386.85" y="1913">0.551</text>
<text class="c" x="506.94" y="1913">0.551</text>
<text class="c" x="627.02" y="1913">0.551</text>
<text class="c" x="747.12" y="1913">0.551</text>
<text class="c" x="867.2" y="1913">0.262</text>
<text class="c" x="987.29" y="1913">0.360</text>
<text class="c" x="1107.38" y="1913">0.458</text>
<text class="c" x="1227.48" y="1913">0.522</text>
<text class="c" x="1347.56" y="1913">0.546</text>
<text class="c" x="1467.65" y="1913">0.551</text>
<text class="c" x="1587.75" y="1913">0.551</text>
<text class="c" x="386.85" y="2033">0.550</text>
<text class="c" x="506.94" y="2033">0.550</text>
<text class="c" x="627.02" y="2033">0.550</text>
<text class="c" x="747.12" y="2033">0.551</text>
<text class="c" x="867.2" y="2033">0.550</text>
<text class="c" x="987.29" y="2033">0.262</text>
<text class="c" x="1107.38" y="2033">0.360</text>
<text class="c" x="1227.48" y="2033">0.458</text>
<text class="c" x="1347.56" y="2033">0.522</text>
<text class="c" x="1467.65" y="2033">0.545</text>
<text class="c" x="1587.75" y="2033">0.550</text>
<text class="c" x="386.85" y="2153">0.544</text>
<text class="c" x="506.94" y="2153">0.549</text>
<text class="c" x="627.02" y="2153">0.550</text>
<text class="c" x="747.12" y="2153">0.550</text>
<text class="c" x="867.2" y="2153">0.550</text>
<text class="c" x="987.29" y="2153">0.550</text>
<text class="c" x="1107.38" y="2153">0.262</text>
<text class="c" x="1227.48" y="2153">0.360</text>
<text class="c" x="1347.56" y="2153">0.458</text>
<text class="c" x="1467.65" y="2153">0.522</text>
<text class="c" x="1587.75" y="2153">0.545</text>
<text class="c" x="386.85" y="2273">0.521</text>
<text class="c" x="506.94" y="2273">0.544</text>
<text class="c" x="627.02" y="2273">0.548</text>
<text class="c" x="747.12" y="2273">0.549</text>
<text class="c" x="867.2" y="2273">0.549</text>
<text class="c" x="987.29" y="2273">0.549</text>
<text class="c" x="1107.38" y="2273">0.549</text>
<text class="c" x="1227.48" y="2273">0.262</text>
<text class="c" x="1347.56" y="2273">0.360</text>
<text class="c" x="1467.65" y="2273">0.457</text>
<text class="c" x="1587.75" y="2273">0.521</text>
<text class="c" x="386.85" y="2393">0.457</text>
<text class="c" x="506.94" y="2393">0.520</text>
<text class="c" x="627.02" y="2393">0.543</text>
<text class="c" x="747.12" y="2393">0.548</text>
<text class="c" x="867.2" y="2393">0.548</text>
<text class="c" x="987.29" y="2393">0.548</text>
<text class="c" x="1107.38" y="2393">0.548</text>
<text class="c" x="1227.48" y="2393">0.548</text>
<text class="c" x="1347.56" y="2393">0.262</text>
<text class="c" x="1467.65" y="2393">0.360</text>
<text class="c" x="1587.75" y="2393">0.457</text>
<text class="c" x="386.85" y="2513">0.360</text>
<text class="c" x="506.94" y="2513">0.457</text>
<text class="c" x="627.02" y="2513">0.520</text>
<text class="c" x="747.12" y="2513">0.542</text>
<text class="c" x="867.2" y="2513">0.547</text>
<text class="c" x="987.29" y="2513">0.547</text>
<text class="c" x="1107.38" y="2513">0.548</text>
<text class="c" x="1227.48" y="2513">0.548</text>
<text class="c" x="1347.56" y="2513">0.548</text>
<text class="c" x="1467.65" y="2513">0.262</text>
<text class="c" x="1587.75" y="2513">0.360</text>
<text class="c" x="386.85" y="2633">0.262</text>
<text class="c" x="506.94" y="2633">0.360</text>
<text class="c" x="627.02" y="2633">0.456</text>
<text class="c" x="747.12" y="2633">0.519</text>
<text class="c" x="867.2" y="2633">0.541</text>
<text class="c" x="987.29" y="2633">0.546</text>
<text class="c" x="1107.38" y="2633">0.547</text>
<text class="c" x="1227.48" y="2633">0.547</text>
<text class="c" x="1347.56" y="2633">0.547</text>
<text class="c" x="1467.65" y="2633">0.547</text>
<text class="c" x="1587.75" y="2633">0.262</text>
</g>
<g id="yticks-b">
<text class="yt" x="273.5" y="1560">50</text>
<text class="yt" x="273.5" y="1680">45</text>
<text class="yt" x="273.5" y="1800">40</text>
<text class="yt" x="273.5" y="1920">35</text>
<text class="yt" x="273.5" y="2040">30</text>
<text class="yt" x="273.5" y="2160">25</text>
<text class="yt" x="273.5" y="2280">20</text>
<text class="yt" x="273.5" y="2400">15</text>
<text class="yt" x="273.5" y="2520">10</text>
<text class="yt" x="273.5" y="2640">5</text>
</g>
<g id="xticks-b">
<text class="xt" transform="translate(383.94 2759.3) rotate(-45)" x="0" y="15.4">130</text>
<text class="xt" transform="translate(504.04 2759.3) rotate(-45)" x="0" y="15.4">140</text>
<text class="xt" transform="translate(624.12 2759.3) rotate(-45)" x="0" y="15.4">150</text>
<text class="xt" transform="translate(744.22 2759.3) rotate(-45)" x="0" y="15.4">160</text>
<text class="xt" transform="translate(864.3 2759.3) rotate(-45)" x="0" y="15.4">170</text>
<text class="xt" transform="translate(984.39 2759.3) rotate(-45)" x="0" y="15.4">180</text>
<text class="xt" transform="translate(1104.49 2759.3) rotate(-45)" x="0" y="15.4">190</text>
<text class="xt" transform="translate(1224.58 2759.3) rotate(-45)" x="0" y="15.4">200</text>
<text class="xt" transform="translate(1344.66 2759.3) rotate(-45)" x="0" y="15.4">210</text>
<text class="xt" transform="translate(1464.76 2759.3) rotate(-45)" x="0" y="15.4">220</text>
<text class="xt" transform="translate(1586.35 2759.3) rotate(-45)" x="0" y="15.4">230</text>
</g>
<g id="cbar-b">
<linearGradient id="rb-b" gradientUnits="userSpaceOnUse" x1="0" y1="2678" x2="0" y2="1486">
<stop offset="0" stop-color="#8000ff"/>
<stop offset="0.02" stop-color="#780dff"/>
<stop offset="0.03" stop-color="#7019ff"/>
<stop offset="0.05" stop-color="#6826fe"/>
<stop offset="0.06" stop-color="#6032fe"/>
<stop offset="0.08" stop-color="#583efd"/>
<stop offset="0.09" stop-color="#504afc"/>
<stop offset="0.11" stop-color="#4856fb"/>
<stop offset="0.12" stop-color="#4062fa"/>
<stop offset="0.14" stop-color="#386df9"/>
<stop offset="0.16" stop-color="#3079f7"/>
<stop offset="0.17" stop-color="#2884f6"/>
<stop offset="0.19" stop-color="#208ef4"/>
<stop offset="0.2" stop-color="#1898f2"/>
<stop offset="0.22" stop-color="#10a2f0"/>
<stop offset="0.23" stop-color="#08acee"/>
<stop offset="0.25" stop-color="#00b5eb"/>
<stop offset="0.27" stop-color="#08bee9"/>
<stop offset="0.28" stop-color="#10c6e6"/>
<stop offset="0.3" stop-color="#18cde4"/>
<stop offset="0.31" stop-color="#20d5e1"/>
<stop offset="0.33" stop-color="#28dbde"/>
<stop offset="0.34" stop-color="#30e1da"/>
<stop offset="0.36" stop-color="#38e7d7"/>
<stop offset="0.38" stop-color="#40ecd4"/>
<stop offset="0.39" stop-color="#48f1d0"/>
<stop offset="0.41" stop-color="#50f4cc"/>
<stop offset="0.42" stop-color="#58f8c9"/>
<stop offset="0.44" stop-color="#60fac5"/>
<stop offset="0.45" stop-color="#68fcc1"/>
<stop offset="0.47" stop-color="#70febc"/>
<stop offset="0.48" stop-color="#78ffb8"/>
<stop offset="0.5" stop-color="#80ffb4"/>
<stop offset="0.52" stop-color="#89ffaf"/>
<stop offset="0.53" stop-color="#90feab"/>
<stop offset="0.55" stop-color="#99fca6"/>
<stop offset="0.56" stop-color="#a0faa1"/>
<stop offset="0.58" stop-color="#a9f79c"/>
<stop offset="0.59" stop-color="#b0f397"/>
<stop offset="0.61" stop-color="#b9ef92"/>
<stop offset="0.62" stop-color="#c0eb8d"/>
<stop offset="0.64" stop-color="#c9e688"/>
<stop offset="0.66" stop-color="#d0e082"/>
<stop offset="0.67" stop-color="#d9da7d"/>
<stop offset="0.69" stop-color="#e0d377"/>
<stop offset="0.7" stop-color="#e9cb72"/>
<stop offset="0.72" stop-color="#f0c46c"/>
<stop offset="0.73" stop-color="#f9bb66"/>
<stop offset="0.75" stop-color="#ffb360"/>
<stop offset="0.77" stop-color="#ffa95b"/>
<stop offset="0.78" stop-color="#ffa055"/>
<stop offset="0.8" stop-color="#ff964f"/>
<stop offset="0.81" stop-color="#ff8c49"/>
<stop offset="0.83" stop-color="#ff8143"/>
<stop offset="0.84" stop-color="#ff763d"/>
<stop offset="0.86" stop-color="#ff6b37"/>
<stop offset="0.88" stop-color="#ff5f30"/>
<stop offset="0.89" stop-color="#ff532a"/>
<stop offset="0.91" stop-color="#ff4724"/>
<stop offset="0.92" stop-color="#ff3b1e"/>
<stop offset="0.94" stop-color="#ff2f18"/>
<stop offset="0.95" stop-color="#ff2211"/>
<stop offset="0.97" stop-color="#ff160b"/>
<stop offset="0.98" stop-color="#ff0905"/>
<stop offset="1" stop-color="#ff0000"/>
</linearGradient>
<rect x="1732" y="1487" width="2" height="1190" fill="url(#rb-b)" opacity="0.45"/>
<rect x="1782" y="1487" width="2" height="1190" fill="url(#rb-b)" opacity="0.22"/>
<rect x="1734" y="1486" width="48" height="2.3" fill="url(#rb-b)" opacity="0.42"/>
<rect x="1734" y="2675.7" width="48" height="2.3" fill="url(#rb-b)" opacity="0.35"/>
<rect x="1734" y="1488" width="48" height="1188" fill="url(#rb-b)"/>
<rect x="1792.5" y="1529.9" width="30" height="11" fill="#262626"/>
<text class="ct" x="1843" y="1556.5">0.54</text>
<rect x="1792.5" y="1694.9" width="30" height="11" fill="#262626"/>
<text class="ct" x="1843" y="1720.1">0.50</text>
<rect x="1792.5" y="1859.3" width="30" height="11" fill="#262626"/>
<text class="ct" x="1843" y="1885.8">0.46</text>
<rect x="1792.5" y="2023.5" width="30" height="11" fill="#262626"/>
<text class="ct" x="1843" y="2049.8">0.42</text>
<rect x="1792.5" y="2190.4" width="30" height="11" fill="#262626"/>
<text class="ct" x="1843" y="2215.9">0.38</text>
<rect x="1792.5" y="2355.1" width="30" height="11" fill="#262626"/>
<text class="ct" x="1843" y="2379.5">0.34</text>
<rect x="1792.5" y="2520" width="30" height="11" fill="#262626"/>
<text class="ct" x="1843" y="2545">0.30</text>
</g>
<text class="lab" x="186.1" y="105.7" font-size="101.5">(a)</text>
<text class="lab" x="182.3" y="1459.6" font-size="101.5">(b)</text>
<text class="lab" transform="translate(114.3 1689.3) rotate(-90)" x="0" y="0" font-size="101.5" letter-spacing="-1.1" style="fill:#231815">Depth of trees</text>
<text class="lab" x="705" y="2914.6" font-size="95.5">Number of trees</text>
</g>
</svg>
</body></html>
